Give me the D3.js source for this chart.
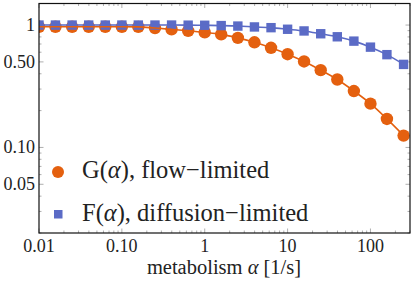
<!DOCTYPE html>
<html>
<head>
<meta charset="utf-8">
<script src="https://cdn.jsdelivr.net/npm/d3@7"></script>
<style>
  html, body { margin: 0; padding: 0; background: #fff; }
  svg { display: block; }
  text { font-family: "Liberation Serif", "DejaVu Serif", serif; fill: #222; }
</style>
</head>
<body>
<script>
// metabolism values (1/s), log spaced
const alphas = [0.01, 0.0158, 0.0251, 0.0398, 0.0631, 0.1, 0.158, 0.251, 0.398, 0.631,
                1, 1.58, 2.51, 3.98, 6.31, 10, 15.8, 25.1, 39.8, 63.1, 100, 158, 251];

// G(alpha), flow-limited
const gValues = [0.968, 0.968, 0.968, 0.968, 0.968, 0.968, 0.966, 0.945, 0.922, 0.898,
                 0.871, 0.839, 0.786, 0.723, 0.652, 0.578, 0.504, 0.428, 0.359, 0.289,
                 0.228, 0.171, 0.125];

// F(alpha), diffusion-limited
const fValues = [1.0, 1.0, 1.0, 1.0, 1.0, 1.0, 1.0, 1.0, 1.0, 0.998,
                 0.996, 0.99, 0.981, 0.965, 0.952, 0.924, 0.895, 0.849, 0.802, 0.739,
                 0.660, 0.573, 0.477];

const xTickVals = [0.01, 0.1, 1, 10, 100];
const xTickLabels = ["0.01", "0.10", "1", "10", "100"];
const yTickVals = [0.05, 0.1, 0.5, 1];
const yTickLabels = ["0.05", "0.10", "0.50", "1"];

const W = 415, H = 288;
const orange = "#e4600f", blue = "#5b6bc6";

const svg = d3.select("body").append("svg")
    .attr("width", W).attr("height", H);

const x = d3.scaleLog().domain([0.01, 300]).range([39, 410]);
const y = d3.scaleLog().domain([0.02, 1.5]).range([233, 3.5]);

const [x0, x1] = x.range();
const [y0, y1] = y.range();

// minor ticks: 2..9 times each decade
const minors = (lo, hi) => {
    let out = [];
    for(let d = Math.floor(Math.log10(lo)); d <= Math.ceil(Math.log10(hi)); d++){
        for(let m = 1; m < 10; m++){
            let v = m * Math.pow(10, d);
            if(v >= lo && v <= hi) out.push(v);
        }
    }
    return out;
};

const tickG = svg.append("g").attr("stroke", "#9a9a9a").attr("stroke-width", 0.8);
const xMin = minors(0.01, 300).filter(v => !xTickVals.some(t => Math.abs(t - v) < 1e-9));
const yMin = minors(0.02, 1.5).filter(v => !yTickVals.some(t => Math.abs(t - v) < 1e-9));

xMin.forEach(v => {
    tickG.append("line").attr("x1", x(v)).attr("x2", x(v)).attr("y1", y0).attr("y2", y0 - 2.5);
    tickG.append("line").attr("x1", x(v)).attr("x2", x(v)).attr("y1", y1).attr("y2", y1 + 2.5);
});
xTickVals.forEach(v => {
    tickG.append("line").attr("x1", x(v)).attr("x2", x(v)).attr("y1", y0).attr("y2", y0 - 4.5);
    tickG.append("line").attr("x1", x(v)).attr("x2", x(v)).attr("y1", y1).attr("y2", y1 + 4.5);
});
yMin.forEach(v => {
    tickG.append("line").attr("y1", y(v)).attr("y2", y(v)).attr("x1", x0).attr("x2", x0 + 2.5);
    tickG.append("line").attr("y1", y(v)).attr("y2", y(v)).attr("x1", x1).attr("x2", x1 - 2.5);
});
yTickVals.forEach(v => {
    tickG.append("line").attr("y1", y(v)).attr("y2", y(v)).attr("x1", x0).attr("x2", x0 + 4.5);
    tickG.append("line").attr("y1", y(v)).attr("y2", y(v)).attr("x1", x1).attr("x2", x1 - 4.5);
});

// tick labels
svg.append("g").selectAll("text").data(xTickVals).join("text")
    .attr("x", d => x(d)).attr("y", 252)
    .attr("text-anchor", "middle").attr("font-size", 18)
    .text((d, i) => xTickLabels[i]);

svg.append("g").selectAll("text").data(yTickVals).join("text")
    .attr("x", 35).attr("y", d => y(d) + 6)
    .attr("text-anchor", "end").attr("font-size", 18)
    .text((d, i) => yTickLabels[i]);

// axis label
const xl = svg.append("text").attr("x", 224).attr("y", 274)
    .attr("text-anchor", "middle").attr("font-size", 20.5);
xl.append("tspan").text("metabolism ");
xl.append("tspan").attr("font-style", "italic").text("α");
xl.append("tspan").text(" [1/s]");

// plot area
svg.append("clipPath").attr("id", "clip").append("rect")
    .attr("x", x0).attr("y", y1).attr("width", x1 - x0).attr("height", y0 - y1);

const plot = svg.append("g").attr("clip-path", "url(#clip)");

const line = (vals) => d3.line()
    .x((d, i) => x(alphas[i]))
    .y(d => y(d))
    .curve(d3.curveMonotoneX)(vals);

plot.append("g").selectAll("circle").data(gValues).join("circle")
    .attr("cx", (d, i) => x(alphas[i])).attr("cy", d => y(d))
    .attr("r", 6.2).attr("fill", orange);

plot.append("g").selectAll("rect").data(fValues).join("rect")
    .attr("x", (d, i) => x(alphas[i]) - 4.7).attr("y", d => y(d) - 4.7)
    .attr("width", 9.4).attr("height", 9.4).attr("fill", blue);

plot.append("path").attr("d", line(fValues))
    .attr("fill", "none").attr("stroke", blue).attr("stroke-width", 1.6);
plot.append("path").attr("d", line(gValues))
    .attr("fill", "none").attr("stroke", orange).attr("stroke-width", 1.6);

// frame
svg.append("rect").attr("x", x0).attr("y", y1)
    .attr("width", x1 - x0).attr("height", y0 - y1)
    .attr("fill", "none").attr("stroke", "#111").attr("stroke-width", 1.2);

// legend
svg.append("circle").attr("cx", 58).attr("cy", 172).attr("r", 6).attr("fill", orange);
svg.append("rect").attr("x", 54).attr("y", 210).attr("width", 8.5).attr("height", 8.5).attr("fill", blue);

const lg1 = svg.append("text").attr("x", 82).attr("y", 178).attr("font-size", 24.5);
lg1.append("tspan").text("G(");
lg1.append("tspan").attr("font-style", "italic").text("α");
lg1.append("tspan").text("), flow\u2212limited");

const lg2 = svg.append("text").attr("x", 82).attr("y", 221).attr("font-size", 24.5);
lg2.append("tspan").text("F(");
lg2.append("tspan").attr("font-style", "italic").text("α");
lg2.append("tspan").text("), diffusion\u2212limited");
</script>
</body>
</html>
